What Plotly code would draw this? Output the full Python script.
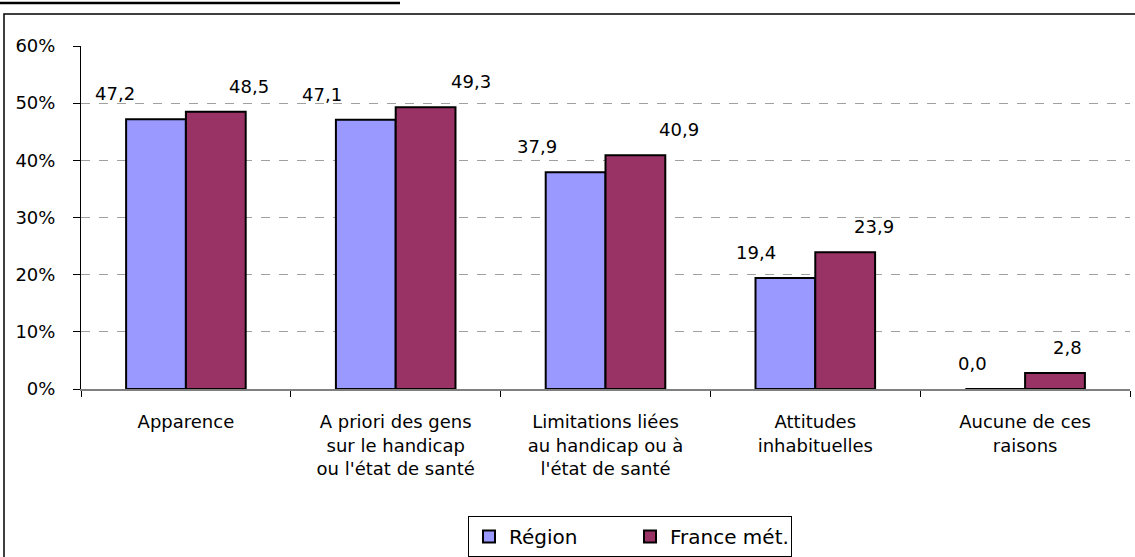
import plotly.graph_objects as go

categories = [
    "Apparence",
    "A priori des gens<br>sur le handicap<br>ou l'état de santé",
    "Limitations liées<br>au handicap ou à<br>l'état de santé",
    "Attitudes<br>inhabituelles",
    "Aucune de ces<br>raisons",
]
region = [47.2, 47.1, 37.9, 19.4, 0.0]
france = [48.5, 49.3, 40.9, 23.9, 2.8]
y_ticks = [0, 10, 20, 30, 40, 50, 60]
y_tick_labels = ["0%", "10%", "20%", "30%", "40%", "50%", "60%"]

# label offsets (px) to mimic the Excel label placement
region_shift = [-29, -32, -27, -17, -11]
france_shift = [21, 33, 32, 17, 0]

font = "DejaVu Sans, Arial, sans-serif"

# plot area in pixels: x 81..1130, y 46..389
W, H = 1135, 557
L, T, B = 81, 46, 389
PW, PH = 1049, B - T


def px(x):
    return (x - L) / PW


def py(y):
    return (B - y) / PH


fig = go.Figure()
fig.add_trace(go.Bar(x=categories, y=region, name="Région",
                     marker=dict(color="#9999FF", line=dict(color="black", width=2))))
fig.add_trace(go.Bar(x=categories, y=france, name="France mét.",
                     marker=dict(color="#993366", line=dict(color="black", width=2))))

annotations = []
for vals, shifts, off in ((region, region_shift, -0.2), (france, france_shift, 0.2)):
    for i, v in enumerate(vals):
        annotations.append(dict(
            x=i + off, y=v, xref="x", yref="y",
            text=f"{v:.1f}".replace(".", ","),
            showarrow=False, yanchor="bottom", xshift=shifts[i], yshift=13,
            font=dict(family=font, size=18, color="black"),
        ))

fig.update_layout(
    width=W, height=H,
    margin=dict(l=L, r=W - L - PW, t=T, b=H - B),
    paper_bgcolor="white", plot_bgcolor="white",
    barmode="group", bargap=0.43, bargroupgap=0,
    font=dict(family=font, size=18, color="black"),
    showlegend=True,
    legend=dict(orientation="h", xref="container", yref="container",
                x=468 / W, xanchor="left", y=1 - 516 / H, yanchor="top",
                bordercolor="black", borderwidth=1, font=dict(size=20),
                entrywidth=116, entrywidthmode="pixels", itemsizing="constant"),
    annotations=annotations,
    shapes=[
        dict(type="rect", xref="paper", yref="paper",
             x0=px(4), x1=px(1145), y0=py(570), y1=py(14),
             line=dict(color="black", width=1.5), layer="below"),
        dict(type="line", xref="paper", yref="paper",
             x0=px(0), x1=px(400), y0=py(3), y1=py(3),
             line=dict(color="black", width=2.5)),
    ],
)

fig.update_xaxes(
    showline=True, linecolor="#808080", linewidth=1.5, automargin=False,
    ticks="outside", tickson="boundaries", ticklen=6, tickcolor="black",
    tickfont=dict(size=18), ticklabelstandoff=16, showgrid=False,
)
fig.update_yaxes(
    range=[0, 60], tickvals=y_ticks, ticktext=y_tick_labels, automargin=False,
    showline=True, linecolor="black", linewidth=1,
    ticks="outside", ticklen=7, tickcolor="black", ticklabelstandoff=14,
    showgrid=True, gridcolor="#A0A0A0", griddash="dash", gridwidth=1,
    zeroline=False, tickfont=dict(size=18),
)

fig.write_html("out.html", config={"displayModeBar": False},
               post_script="document.body.style.margin='0';")
